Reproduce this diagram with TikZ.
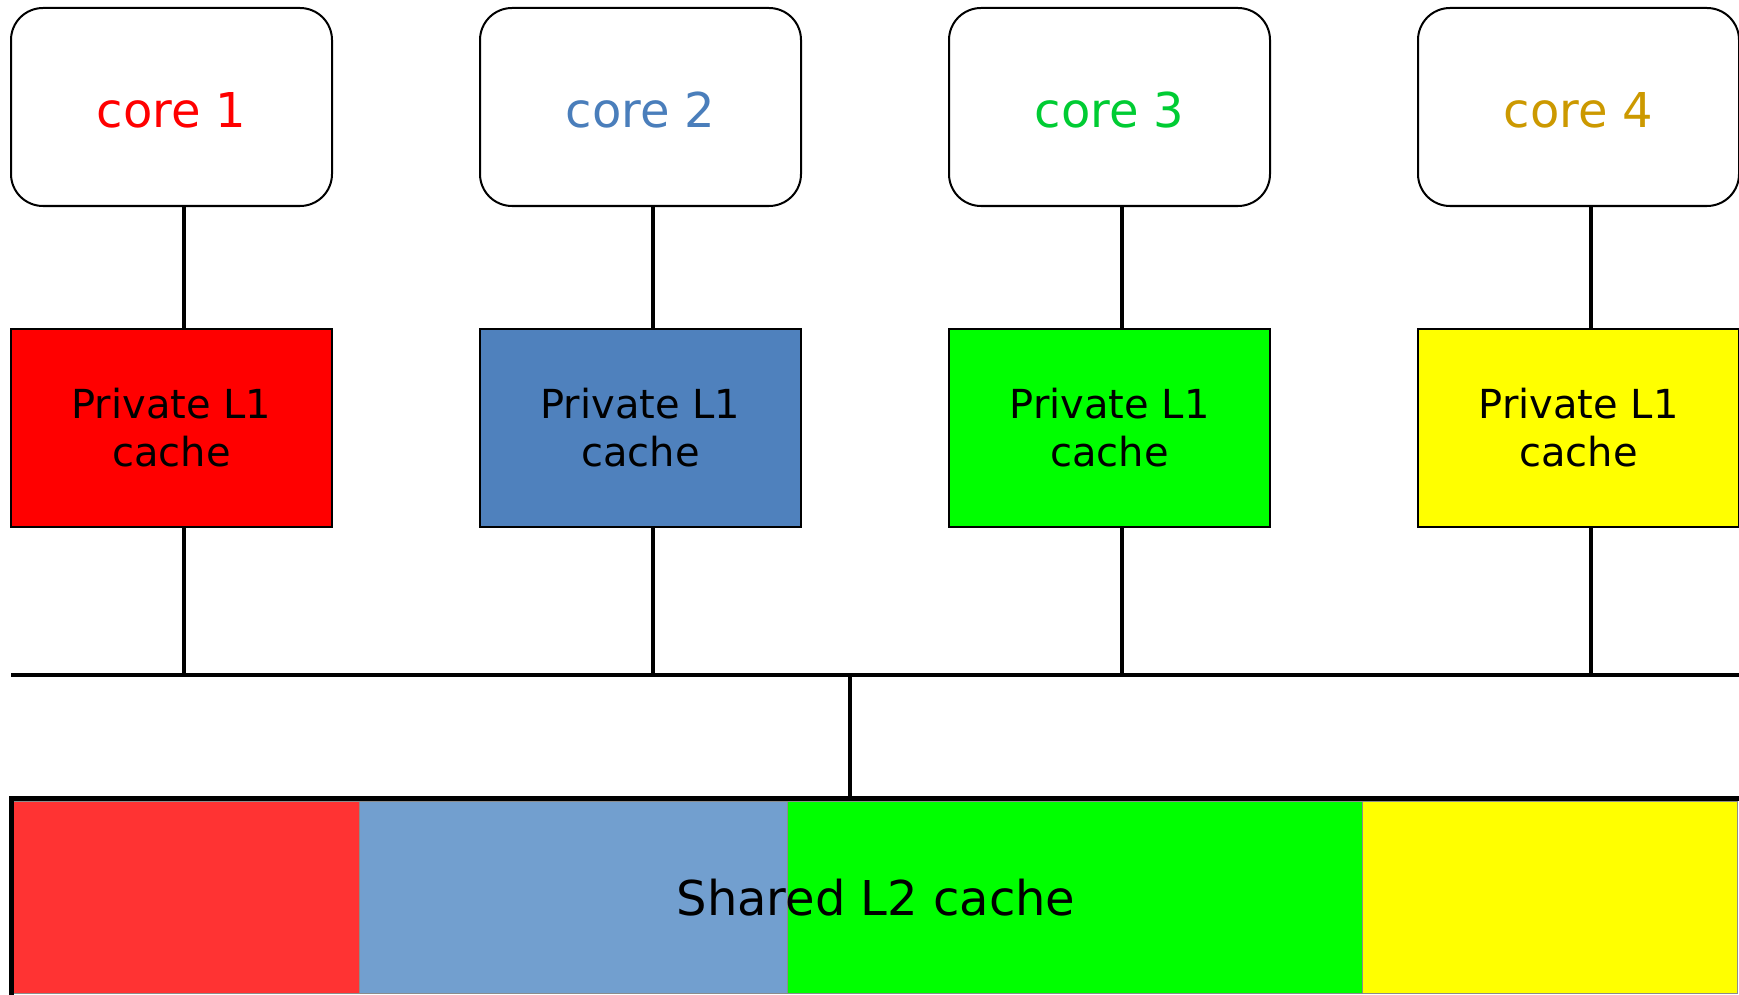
\documentclass[tikz,border=0pt]{standalone}
\usepackage{fontspec}
\setmainfont{DejaVu Sans}
\definecolor{coreRed}{HTML}{FF0000}
\definecolor{coreBlue}{HTML}{4A7EBB}
\definecolor{coreGreen}{HTML}{00CC33}
\definecolor{coreGold}{HTML}{CC9900}
\definecolor{lOneRed}{HTML}{FF0000}
\definecolor{lOneBlue}{HTML}{4F81BD}
\definecolor{lOneGreen}{HTML}{00FF00}
\definecolor{lOneYellow}{HTML}{FFFF00}
\definecolor{lTwoRed}{HTML}{FF3333}
\definecolor{lTwoBlue}{HTML}{729FCF}
\definecolor{lTwoGreen}{HTML}{00FF00}
\definecolor{lTwoYellow}{HTML}{FFFF00}
\begin{document}
\begin{tikzpicture}[x=1pt,y=-1pt,
  corebox/.style={draw=black,line width=2pt,rounded corners=32pt,fill=white,
    minimum width=321pt,minimum height=198pt,inner sep=0pt,
    text height=42pt,text depth=0pt,
    font=\fontsize{48}{58}\selectfont},
  cachebox/.style={draw=black,line width=2pt,
    minimum width=321pt,minimum height=198pt,inner sep=0pt,align=center,
    font=\fontsize{40}{48}\selectfont},
  wire/.style={line width=3.5pt,black},
  slice/.style={draw=black!45,line width=1pt}]
\useasboundingbox (0,0) rectangle (1739,995);
\clip (0,0) rectangle (1739,995);

% cores
\node[corebox,text=coreRed]   (core1) at (171.5,107) {core 1};
\node[corebox,text=coreBlue]  (core2) at (640.5,107) {core 2};
\node[corebox,text=coreGreen] (core3) at (1109.5,107) {core 3};
\node[corebox,text=coreGold]  (core4) at (1578.5,107) {core 4};

% private L1 caches
\node[cachebox,fill=lOneRed]    (l1a) at (171.5,428) {Private L1\\cache};
\node[cachebox,fill=lOneBlue]   (l1b) at (640.5,428) {Private L1\\cache};
\node[cachebox,fill=lOneGreen]  (l1c) at (1109.5,428) {Private L1\\cache};
\node[cachebox,fill=lOneYellow] (l1d) at (1578.5,428) {Private L1\\cache};

% tap positions of the vertical links
\coordinate (t1) at (184,0);
\coordinate (t2) at (653,0);
\coordinate (t3) at (1122,0);
\coordinate (t4) at (1591,0);
\coordinate (tl2) at (850,0);

% bus
\coordinate (busL) at (11,675);
\coordinate (busR) at (1739,675);
\draw[wire] (busL) -- (busR);

% shared L2 cache partitions
\draw[slice,fill=lTwoRed]    (13,801) rectangle (359,993);
\draw[slice,fill=lTwoBlue]   (359,801) rectangle (787,993);
\draw[slice,fill=lTwoGreen]  (787,801) rectangle (1362,993);
\draw[slice,fill=lTwoYellow] (1362,801) rectangle (1737,993);
\node[draw=black,line width=5pt,minimum width=1730pt,minimum height=200pt,
  inner sep=0pt,font=\fontsize{48}{58}\selectfont] (l2) at (876,898) {Shared L2 cache};

% links
\foreach \c/\l/\t in {core1/l1a/t1,core2/l1b/t2,core3/l1c/t3,core4/l1d/t4}{
  \draw[wire] (\c.south -| \t) -- (\l.north -| \t);
  \draw[wire] (\l.south -| \t) -- (busL -| \t);
}
\draw[wire] (busL -| tl2) -- (l2.north -| tl2);
\end{tikzpicture}
\end{document}
